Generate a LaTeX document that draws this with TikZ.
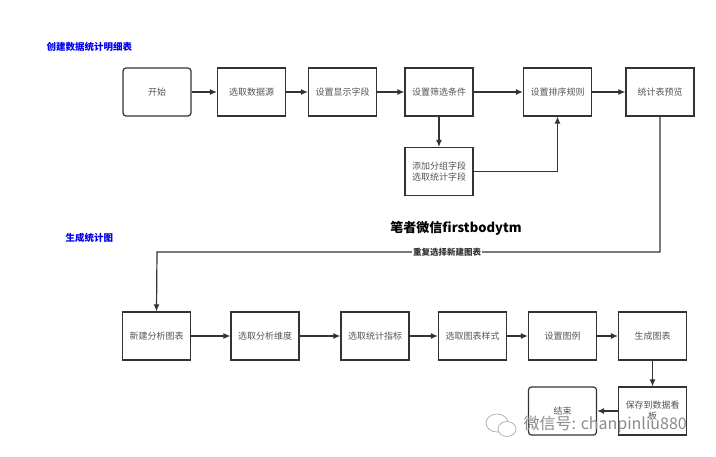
\documentclass[tikz,border=0pt]{standalone}
\usepackage{fontspec}
\setmainfont{Noto Sans CJK SC}
\usepackage{xcolor}
\usepackage{tikz}
\usetikzlibrary{calc, positioning, arrows.meta}

\definecolor{linec}{HTML}{333333}
\definecolor{textc}{HTML}{555555}
\definecolor{titlec}{HTML}{0000EE}

\tikzset{
    box/.style={draw=linec, line width=1.2pt, fill=white, minimum width=68, minimum height=48,
        inner sep=2pt, text=textc, align=center, font=\fontsize{9}{11}\selectfont},
    rbox/.style={box, rounded corners=3},
    arr/.style={-{Latex[length=7pt,width=6pt]}, draw=linec, line width=1.2pt},
    title/.style={text=titlec, font=\bfseries\fontsize{9.5}{11}\selectfont, anchor=west}
}

\begin{document}
\begin{tikzpicture}[x=1pt, y=-1pt]
    \useasboundingbox (0,0) rectangle (716,457);

    % Tiêu đề hai phần
    \node[title] (t1) at (43,47) {创建数据统计明细表};
    \node[title] (t2) at (62,238) {生成统计图};

    % Hàng 1
    \node[rbox] (start) at (157,92) {开始};
    \node[box] (src) at (251.5,92) {选取数据源};
    \node[box] (show) at (342.5,92) {设置显示字段};
    \node[box] (filt) at (439,92) {设置筛选条件};
    \node[box] (sort) at (557.5,92) {设置排序规则};
    \node[box] (pre) at (660,92) {统计表预览};
    \node[box] (grp) at (439,171.5) {添加分组字段\\选取统计字段};

    % Hàng 2
    \node[box] (new) at (156.5,336) {新建分析图表};
    \node[box] (dim) at (265,336) {选取分析维度};
    \node[box] (idx) at (375,336) {选取统计指标};
    \node[box] (sty) at (472.5,336) {选取图表样式};
    \node[box] (leg) at (562.5,336) {设置图例};
    \node[box] (gen) at (652.5,336) {生成图表};
    \node[box] (save) at (652.5,411) {保存到数据看\\板};
    \node[rbox] (end) at (562.5,411) {结束};

    % Mũi tên
    \foreach \a/\b in {start/src, src/show, show/filt, filt/sort, sort/pre,
        new/dim, dim/idx, idx/sty, sty/leg, leg/gen} {
        \draw[arr] (\a) -- (\b);
    }
    \draw[arr] (filt) -- (grp);
    \draw[arr] (grp.east) -| (sort.south);
    \draw[arr] (gen) -- (save);
    \draw[arr] (save) -- (end);

    % Vòng lặp
    \coordinate (back) at (157,252);
    \draw[arr] (pre.south) |- (back) -- (new.north);
    \node[fill=white, inner sep=1pt, text=linec, font=\bfseries\fontsize{8.5}{10}\selectfont] (again) at (447,252) {重复选择新建图表};

    \node[font=\bfseries\fontsize{13}{15}\selectfont] (note) at (456,228) {笔者微信firstbodytm};

    % Hình mờ
    \draw[gray!60, line width=0.8pt] (497,423) ellipse (11 and 9);
    \draw[gray!60, line width=0.8pt, fill=white] (507,429) ellipse (9 and 7.5);
    \node[text=gray!90, font=\fontsize{16}{18}\selectfont, anchor=west] (wm) at (520,425) {微信号: chanpinliu880};
\end{tikzpicture}
\end{document}
